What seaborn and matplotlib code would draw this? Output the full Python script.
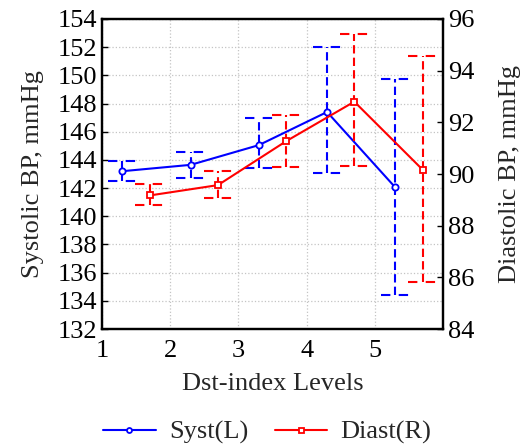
import numpy as np
import pandas as pd
import seaborn as sns
import matplotlib
matplotlib.use('Agg')
import matplotlib.pyplot as plt

# data
levels = [1, 2, 3, 4, 5]
syst_mean = [143.2, 143.65, 145.05, 147.4, 142.05]
syst_lo = [142.5, 142.7, 143.4, 143.1, 134.4]
syst_hi = [143.95, 144.55, 146.95, 152.0, 149.75]
diast_mean = [89.17, 89.57, 91.27, 92.8, 90.17]
diast_lo = [88.8, 89.06, 90.28, 90.3, 85.83]
diast_hi = [89.6, 90.1, 92.3, 95.4, 94.55]
left_ticks = list(range(132, 155, 2))
right_ticks = list(range(84, 97, 2))

sns.set_style('white')
plt.rcParams['font.family'] = ['Liberation Serif', 'DejaVu Serif']

df = pd.DataFrame({
    'xs': np.array(levels) + 0.3,
    'xd': np.array(levels) + 0.7,
    'syst': syst_mean,
    'diast': diast_mean,
})

fig = plt.figure(figsize=(5.24, 4.48), dpi=100)
ax = fig.add_axes([0.1947, 0.2656, 0.6507, 0.692])
ax2 = ax.twinx()

cap = 0.21
vdash = (0, (4, 2))
cdash = (0, (4.5, 4))

# blue error bars (left axis)
ax.vlines(df['xs'], syst_lo, syst_hi, colors='blue', linestyles=vdash, lw=1.5)
ax.hlines(syst_lo, df['xs'] - cap, df['xs'] + cap, colors='blue', linestyles=cdash, lw=1.5)
ax.hlines(syst_hi, df['xs'] - cap, df['xs'] + cap, colors='blue', linestyles=cdash, lw=1.5)
sns.lineplot(data=df, x='xs', y='syst', ax=ax, color='blue', lw=1.5,
             marker='o', markersize=4.5, markerfacecolor='white',
             markeredgecolor='blue', markeredgewidth=1.3, label='Syst(L)')

# red error bars (right axis)
ax2.vlines(df['xd'], diast_lo, diast_hi, colors='red', linestyles=vdash, lw=1.5)
ax2.hlines(diast_lo, df['xd'] - cap, df['xd'] + cap, colors='red', linestyles=cdash, lw=1.5)
ax2.hlines(diast_hi, df['xd'] - cap, df['xd'] + cap, colors='red', linestyles=cdash, lw=1.5)
sns.lineplot(data=df, x='xd', y='diast', ax=ax2, color='red', lw=1.5,
             marker='s', markersize=4.5, markerfacecolor='white',
             markeredgecolor='red', markeredgewidth=1.3, label='Diast(R)')

ax.set_xlim(1, 6)
ax.set_xticks(levels)
ax.set_ylim(132, 154)
ax.set_yticks(left_ticks)
ax2.set_ylim(84, 96)
ax2.set_yticks(right_ticks)

ax.grid(True, color='#c4c4c4', linestyle=':', lw=0.9)
ax2.grid(False)

for a in (ax, ax2):
    for s in a.spines.values():
        s.set_linewidth(1.6)
        s.set_color('black')
    a.tick_params(direction='in', length=4, width=1, labelsize=19, colors='black')
ax.tick_params(axis='x', pad=8)

ax.set_xlabel('Dst-index Levels', fontsize=19, labelpad=8)
ax.set_ylabel('Systolic BP, mmHg', fontsize=19, labelpad=10)
ax2.set_ylabel('Diastolic BP, mmHg', fontsize=19, labelpad=18)

h1, l1 = ax.get_legend_handles_labels()
h2, l2 = ax2.get_legend_handles_labels()
ax.get_legend().remove()
ax2.get_legend().remove()
fig.legend(h1 + h2, l1 + l2, loc='center', bbox_to_anchor=(0.51, 0.035), ncol=2,
           frameon=False, fontsize=19, handlelength=2.0, columnspacing=1.0,
           handletextpad=0.5, markerscale=0.8)

fig.savefig('out.png', dpi=100)
